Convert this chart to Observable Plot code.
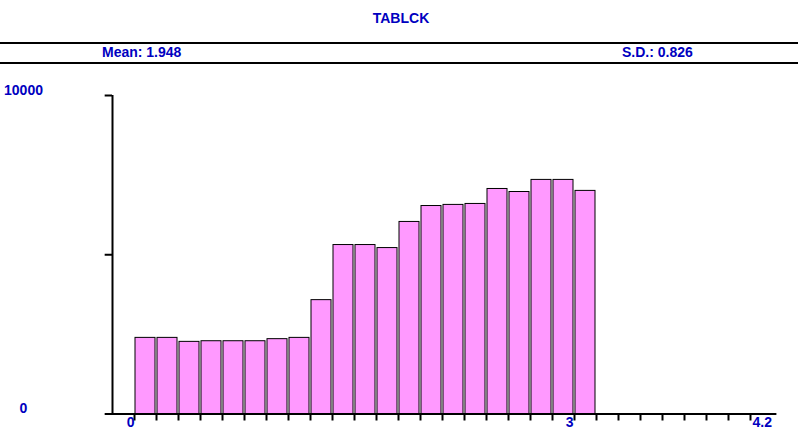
<!DOCTYPE html>
<html><head><meta charset="utf-8">
<script src="https://cdn.jsdelivr.net/npm/d3@7"></script>
<script src="https://cdn.jsdelivr.net/npm/@observablehq/plot@0.6"></script>
<style>
html,body{margin:0;padding:0;background:#fff;}
#wrap{position:relative;width:798px;height:442px;overflow:hidden;font-family:"Liberation Sans",Arial,sans-serif;font-weight:bold;font-size:14px;color:#0000c0;}
#head{position:relative;height:70px;}
.t{position:absolute;white-space:nowrap;line-height:14px;}
.line{position:absolute;left:0;width:798px;height:2px;background:#000;}
#chart svg{display:block;}
</style></head><body>
<div id="wrap">
  <div id="head">
    <div class="t" id="title" style="left:2px;width:798px;text-align:center;top:11px"></div>
    <div class="line" style="top:42px"></div>
    <div class="t" id="mean" style="left:102px;top:45px"></div>
    <div class="t" id="sd" style="left:622px;top:45px"></div>
    <div class="line" style="top:62px"></div>
  </div>
  <div id="chart"></div>
</div>
<script>
// ---- data ----
const title = "TABLCK";
const meanText = "Mean: 1.948";
const sdText = "S.D.: 0.826";
const binEdges = [0, 0.15, 0.3, 0.45, 0.6, 0.75, 0.9, 1.05, 1.2, 1.35, 1.5, 1.65, 1.8, 1.95, 2.1, 2.25, 2.4, 2.55, 2.7, 2.85, 3.0, 3.15];
const counts = [2390, 2390, 2265, 2285, 2285, 2285, 2350, 2390, 3575, 5305, 5305, 5210, 6030, 6530, 6565, 6595, 7065, 6970, 7350, 7350, 7005];
const xTickValues = d3.range(0, 29).map(i => +(i * 0.15).toFixed(2));
const xTickLabels = [{v: 0, t: "0"}, {v: 3, t: "3"}, {v: 4.2, t: "4.2"}];
const yTickValues = [5000, 10000];
const yTickLabels = [0, 10000];
const xDomain = [-0.2, 4.4];
const yDomain = [0, 10000];
const yAxisAt = -0.15;
const xAxisExtent = [-0.2, 4.38];

document.getElementById("title").textContent = title;
document.getElementById("mean").textContent = meanText;
document.getElementById("sd").textContent = sdText;

const bars = counts.map((c, i) => ({x1: binEdges[i], x2: binEdges[i + 1], c}));
const blue = "#0000c0";

const chart = Plot.plot({
  width: 798,
  height: 372,
  marginTop: 25,
  marginBottom: 28.5,
  marginLeft: 104.67,
  marginRight: 18.67,
  x: {domain: xDomain, axis: null},
  y: {domain: yDomain, axis: null},
  style: {fontFamily: "'Liberation Sans', Arial, sans-serif", fontSize: "14px", fontWeight: "bold", color: "black", background: "white"},
  marks: [
    Plot.rectY(bars, {x1: "x1", x2: "x2", y: "c", fill: "#ff99ff", stroke: "black", strokeWidth: 1, insetLeft: 1, insetRight: 1}),
    Plot.axisX(xTickValues, {anchor: "bottom", tickSize: 7, strokeWidth: 2, tickFormat: () => "", label: null}),
    Plot.ruleY([0], {x1: xAxisExtent[0], x2: xAxisExtent[1], strokeWidth: 2}),
    Plot.ruleX([yAxisAt], {y1: yDomain[0], y2: yDomain[1], strokeWidth: 2}),
    Plot.ruleY(yTickValues, {x1: xDomain[0], x2: yAxisAt, strokeWidth: 2}),
    Plot.text([xTickLabels[0]], {x: "v", text: "t", frameAnchor: "bottom", lineAnchor: "middle", textAnchor: "end", dx: 0, dy: 9, fill: blue}),
    Plot.text([xTickLabels[1]], {x: "v", text: "t", frameAnchor: "bottom", lineAnchor: "middle", textAnchor: "end", dx: -1, dy: 9, fill: blue}),
    Plot.text([xTickLabels[2]], {x: "v", text: "t", frameAnchor: "bottom", lineAnchor: "middle", textAnchor: "start", dx: 2, dy: 9, fill: blue}),
    Plot.text(yTickLabels, {y: d => d, text: d => String(d), frameAnchor: "left", lineAnchor: "middle", textAnchor: "middle", dx: -81.67, dy: -5, fill: blue})
  ]
});
document.getElementById("chart").appendChild(chart);
</script>
</body></html>
